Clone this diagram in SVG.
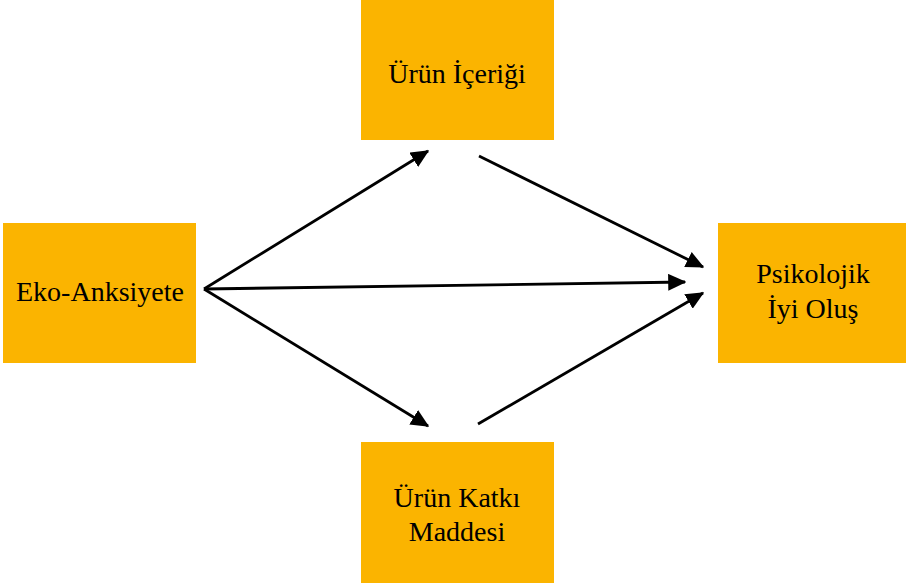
<svg xmlns="http://www.w3.org/2000/svg" width="906" height="585" viewBox="0 0 906 585">
<style>
.box{fill:#FBB400}
.t{font-family:"Liberation Serif","Times New Roman",serif;font-size:28px;fill:#000;text-anchor:middle}
.c{stroke:#000;stroke-width:2.8;fill:none;marker-end:url(#ah)}
</style>
<defs>
<marker id="ah" markerWidth="6.5" markerHeight="6" refX="6" refY="3" orient="auto" markerUnits="strokeWidth">
<path d="M0,0 L6.5,3 L0,6 Z" fill="#000"/>
</marker>
</defs>
<rect width="906" height="585" fill="#fff"/>
<g id="urun-icerigi"><rect class="box" x="361" y="0" width="193" height="140"/><text class="t" x="457" y="83">Ürün İçeriği</text></g>
<g id="eko-anksiyete"><rect class="box" x="3" y="223" width="193" height="140"/><text class="t" x="100" y="301">Eko-Anksiyete</text></g>
<g id="psikolojik"><rect class="box" x="718" y="223" width="188" height="140"/><text class="t" x="813" y="283">Psikolojik</text><text class="t" x="813" y="318">İyi Oluş</text></g>
<g id="urun-katki"><rect class="box" x="361" y="442" width="193" height="141"/><text class="t" x="457" y="507">Ürün Katkı</text><text class="t" x="457" y="541">Maddesi</text></g>
<g id="connectors">
<line class="c" x1="204" y1="289" x2="428" y2="151"/>
<line class="c" x1="204" y1="289" x2="685" y2="282"/>
<line class="c" x1="204" y1="289" x2="428" y2="426"/>
<line class="c" x1="479" y1="156" x2="703" y2="267"/>
<line class="c" x1="478" y1="424" x2="703" y2="293"/>
</g>
</svg>
